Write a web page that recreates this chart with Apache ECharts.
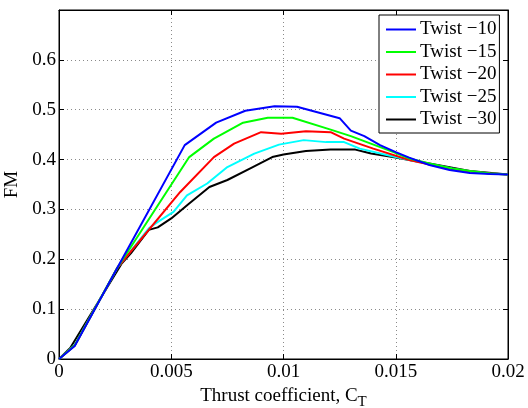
<!DOCTYPE html>
<html>
<head>
<meta charset="utf-8">
<script src="https://cdn.jsdelivr.net/npm/echarts@6/dist/echarts.min.js"></script>
<style>
  html, body { margin: 0; padding: 0; background: #fff; }
  #chart { width: 528px; height: 408px; }
</style>
</head>
<body>
<div id="chart"></div>
<script>
// Series data: [thrust coefficient CT, figure of merit FM]
const twist10 = [[0,0],[0.0007,0.026],[0.0026,0.183],[0.0056,0.429],[0.0070,0.474],[0.0083,0.498],[0.0096,0.507],[0.0106,0.506],[0.0125,0.483],[0.0130,0.458],[0.0136,0.447],[0.0143,0.429],[0.0150,0.415],[0.0156,0.404],[0.0165,0.389],[0.0174,0.379],[0.0183,0.373],[0.0192,0.371],[0.0200,0.370]];
const twist15 = [[0,0],[0.0007,0.027],[0.0026,0.183],[0.0058,0.405],[0.0069,0.442],[0.0082,0.474],[0.0093,0.484],[0.0104,0.484],[0.0121,0.460],[0.0130,0.447],[0.0149,0.415],[0.0156,0.402],[0.0165,0.392],[0.0175,0.382],[0.0183,0.377],[0.0192,0.372],[0.0200,0.370]];
const twist20 = [[0,0],[0.0007,0.027],[0.0026,0.183],[0.0054,0.335],[0.0069,0.405],[0.0078,0.432],[0.0090,0.455],[0.0099,0.452],[0.0110,0.457],[0.0121,0.455],[0.0127,0.442],[0.0140,0.422],[0.0156,0.399],[0.0165,0.390],[0.0175,0.381],[0.0183,0.376],[0.0192,0.372],[0.0200,0.370]];
const twist25 = [[0,0],[0.0007,0.028],[0.0026,0.183],[0.0040,0.262],[0.0043,0.272],[0.0051,0.295],[0.0057,0.328],[0.0066,0.352],[0.0075,0.385],[0.0087,0.412],[0.0098,0.430],[0.0109,0.439],[0.0119,0.435],[0.0127,0.435],[0.0134,0.422],[0.0146,0.409],[0.0156,0.399],[0.0165,0.391],[0.0175,0.382],[0.0183,0.376],[0.0192,0.372],[0.0200,0.370]];
const twist30 = [[0,0],[0.0005,0.022],[0.0028,0.192],[0.0032,0.212],[0.0040,0.259],[0.0044,0.264],[0.0050,0.282],[0.0058,0.312],[0.0067,0.345],[0.0075,0.359],[0.0085,0.382],[0.0095,0.405],[0.0100,0.410],[0.0110,0.417],[0.0121,0.420],[0.0132,0.420],[0.0139,0.412],[0.0150,0.404],[0.0156,0.399],[0.0165,0.392],[0.0183,0.377],[0.0200,0.370]];

const seriesNames = ['Twist \u221210', 'Twist \u221215', 'Twist \u221220', 'Twist \u221225', 'Twist \u221230'];
const seriesData = [twist10, twist15, twist20, twist25, twist30];
const seriesColors = ['#0000ff', '#00ff00', '#ff0000', '#00ffff', '#000000'];

const font = 'Liberation Serif';
const fs = 19;

const chart = echarts.init(document.getElementById('chart'));

const gridLine = { show: true, lineStyle: { color: '#8a8a8a', type: [1, 3], width: 1 } };
const boxTick = { show: true, inside: true, length: 5, lineStyle: { color: '#000' } };

chart.setOption({
    animation: false,
    textStyle: { fontFamily: font },
    grid: {
        left: 59, right: 20, top: 10, bottom: 49,
        outerBoundsMode: 'none', containLabel: false,
        show: true, borderColor: '#000', borderWidth: 1
    },
    legend: {
        orient: 'vertical',
        left: 379,
        top: 15,
        padding: [5, 3, 4, 7],
        icon: 'rect',
        itemWidth: 30,
        itemHeight: 2,
        itemGap: 3.5,
        backgroundColor: '#fff',
        borderColor: '#000',
        borderWidth: 1,
        textStyle: { fontFamily: font, fontSize: fs, color: '#000', lineHeight: 19, padding: [0, 0, 0, -1] },
        data: seriesNames
    },
    xAxis: [{
        type: 'value',
        min: 0, max: 0.02, interval: 0.005,
        name: 'Thrust coefficient, C{sub|T}',
        nameLocation: 'middle',
        nameGap: 24,
        nameTextStyle: {
            fontFamily: font, fontSize: fs, color: '#000', verticalAlign: 'top',
            rich: { sub: { fontFamily: font, fontSize: 15, color: '#000', padding: [12, 0, 0, 0] } }
        },
        axisLine: { onZero: false, lineStyle: { color: '#000' } },
        axisTick: boxTick,
        axisLabel: { fontFamily: font, fontSize: fs, color: '#000', margin: 4 },
        splitLine: gridLine
    }, {
        type: 'value', position: 'top',
        min: 0, max: 0.02, interval: 0.005,
        axisLine: { show: true, onZero: false, lineStyle: { color: '#000' } },
        axisTick: boxTick,
        axisLabel: { show: false },
        splitLine: { show: false }
    }],
    yAxis: [{
        type: 'value',
        min: 0, max: 0.7, interval: 0.1,
        name: 'FM',
        nameLocation: 'middle',
        nameGap: 30,
        nameTextStyle: { fontFamily: font, fontSize: fs, color: '#000' },
        axisLine: { show: true, onZero: false, lineStyle: { color: '#000' } },
        axisTick: boxTick,
        axisLabel: {
            fontFamily: font, fontSize: fs, color: '#000', margin: 3,
            formatter: v => (v > 0.65 ? '' : String(+v.toFixed(1)))
        },
        splitLine: gridLine
    }, {
        type: 'value', position: 'right',
        min: 0, max: 0.7, interval: 0.1,
        axisLine: { show: true, onZero: false, lineStyle: { color: '#000' } },
        axisTick: boxTick,
        axisLabel: { show: false },
        splitLine: { show: false }
    }],
    series: seriesData.map((d, i) => ({
        name: seriesNames[i],
        type: 'line',
        data: d,
        symbol: 'none',
        color: seriesColors[i],
        lineStyle: { width: 2, color: seriesColors[i] },
        z: 10 - i
    }))
});
</script>
</body>
</html>
